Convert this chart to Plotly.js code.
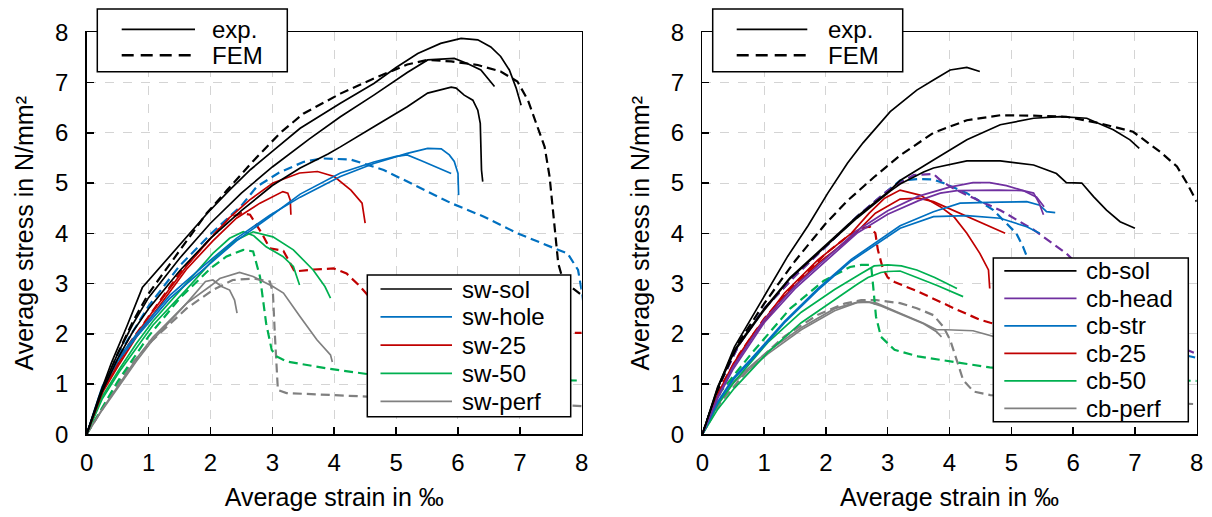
<!DOCTYPE html>
<html>
<head>
<meta charset="utf-8">
<script src="https://cdn.plot.ly/plotly-3.0.1.min.js"></script>
<style>html,body{margin:0;padding:0;background:#fff;}#chart{width:1212px;height:517px;}</style>
</head>
<body>
<div id="chart"></div>
<script>
// ---------- data: [strain ‰, stress N/mm²] ----------
// Left panel (sw series)
const swSolExpA = [[0,0],[0.2,0.75],[0.4,1.42],[0.65,2.15],[0.9,2.92],[1.1,3.2],[1.35,3.55],[1.6,3.92],[1.95,4.4],[2.3,4.85],[2.65,5.27],[3.0,5.63],[3.45,6.09],[4.1,6.59],[4.64,6.98],[5.0,7.3],[5.35,7.58],[5.72,7.78],[6.05,7.88],[6.32,7.85],[6.53,7.71],[6.69,7.52],[6.83,7.25],[6.94,6.89],[7.02,6.55]];
const swSolExpB = [[0,0],[0.25,0.9],[0.5,1.6],[0.75,2.2],[1.0,2.72],[1.5,3.5],[2.0,4.2],[2.5,4.8],[3.0,5.32],[3.3,5.6],[3.6,5.88],[4.1,6.32],[4.64,6.75],[5.18,7.2],[5.51,7.45],[5.94,7.48],[6.15,7.38],[6.37,7.25],[6.48,7.08],[6.59,6.92]];
const swSolExpC = [[0,0],[0.25,0.85],[0.5,1.5],[0.75,2.05],[1.0,2.5],[1.5,3.25],[2.0,3.9],[2.5,4.45],[3.0,4.95],[3.45,5.3],[3.9,5.58],[4.1,5.72],[4.64,6.12],[5.18,6.52],[5.51,6.79],[5.89,6.91],[5.97,6.89],[6.1,6.75],[6.24,6.65],[6.32,6.45],[6.36,6.19],[6.37,5.72],[6.38,5.26],[6.4,5.03]];
const swSolFem = [[0,0],[0.25,0.85],[0.5,1.6],[0.75,2.25],[1.0,2.8],[1.5,3.65],[1.94,4.4],[2.27,4.86],[2.7,5.45],[3.13,6.0],[3.5,6.38],[4.1,6.78],[4.64,7.08],[5.18,7.36],[5.51,7.45],[5.89,7.42],[6.32,7.35],[6.69,7.22],[6.96,7.02],[7.13,6.65],[7.29,6.12],[7.4,5.72],[7.48,5.13],[7.53,4.53],[7.58,3.93],[7.62,3.4],[7.68,3.14],[7.82,2.94],[8.0,2.77]];
const swHoleExp1 = [[0,0],[0.25,0.95],[0.5,1.5],[0.8,1.98],[1.34,2.76],[1.88,3.34],[2.42,3.9],[2.96,4.36],[3.45,4.72],[4.1,5.13],[4.64,5.39],[5.18,5.59],[5.51,5.69],[5.73,5.68],[5.86,5.56],[5.94,5.43],[6.0,5.19],[6.01,4.76]];
const swHoleExp2 = [[0,0],[0.25,0.9],[0.5,1.45],[0.8,1.93],[1.34,2.7],[1.88,3.28],[2.42,3.85],[2.96,4.33],[3.45,4.78],[4.1,5.2],[4.64,5.42],[5.0,5.53],[5.18,5.56],[5.4,5.45],[5.62,5.33],[5.89,5.19]];
const swHoleFem = [[0,0],[0.3,1.0],[0.6,1.75],[1.0,2.55],[1.5,3.35],[2.0,3.98],[2.5,4.55],[2.75,4.93],[3.1,5.2],[3.5,5.42],[3.8,5.49],[4.26,5.47],[4.8,5.26],[5.35,4.93],[5.89,4.6],[6.42,4.33],[6.96,4.0],[7.5,3.73],[7.77,3.6],[7.94,3.27],[8.0,2.85],[8.05,2.4]];
const sw25Exp1 = [[0,0],[0.25,0.85],[0.53,1.45],[0.8,1.98],[1.07,2.45],[1.35,2.9],[1.61,3.34],[2.04,3.95],[2.3,4.3],[2.63,4.66],[3.01,5.0],[3.44,5.2],[3.73,5.23],[4.0,5.13],[4.27,4.86],[4.45,4.6],[4.5,4.2]];
const sw25Exp2 = [[0,0],[0.25,0.82],[0.53,1.4],[0.8,1.93],[1.07,2.38],[1.61,3.28],[2.04,3.85],[2.42,4.3],[2.8,4.6],[3.17,4.83],[3.25,4.8],[3.29,4.66],[3.3,4.37]];
const sw25Fem = [[0,0],[0.3,1.0],[0.6,1.65],[1.0,2.35],[1.5,3.2],[2.0,3.9],[2.3,4.3],[2.5,4.4],[2.64,4.37],[2.83,4.0],[2.96,3.7],[3.18,3.65],[3.29,3.4],[3.36,3.24],[3.67,3.28],[3.99,3.3],[4.2,3.2],[4.42,2.94],[4.7,2.55],[5.2,2.3],[6.0,2.18],[7.0,2.08],[7.9,2.02],[8.0,2.02]];
const sw50Exp1 = [[0,0],[0.25,0.75],[0.53,1.3],[0.8,1.8],[1.07,2.25],[1.61,3.0],[2.04,3.6],[2.31,3.9],[2.53,4.03],[2.7,3.95],[2.9,3.73],[3.17,3.54],[3.34,3.34],[3.44,2.97]];
const sw50Exp2 = [[0,0],[0.25,0.7],[0.53,1.25],[0.8,1.72],[1.07,2.17],[1.61,2.88],[2.04,3.47],[2.4,3.85],[2.69,4.03],[3.01,3.93],[3.34,3.67],[3.66,3.27],[3.85,2.94],[3.94,2.71]];
const sw50Fem = [[0,0],[0.5,1.05],[1.0,1.95],[1.5,2.7],[2.0,3.3],[2.26,3.54],[2.53,3.67],[2.69,3.64],[2.8,3.14],[2.9,2.21],[2.99,1.68],[3.07,1.55],[3.23,1.45],[3.88,1.31],[4.53,1.2],[5.5,1.15],[6.5,1.1],[7.92,1.07],[8.0,1.07]];
const swPerfExp1 = [[0,0],[0.25,0.5],[0.53,1.0],[0.8,1.5],[1.07,1.93],[1.61,2.6],[2.0,2.95],[2.15,3.1],[2.47,3.22],[2.69,3.14],[3.01,2.94],[3.18,2.81],[3.45,2.34],[3.72,1.88],[3.94,1.58],[3.97,1.44]];
const swPerfExp2 = [[0,0],[0.25,0.48],[0.53,0.97],[0.8,1.45],[1.07,1.88],[1.61,2.6],[1.92,3.04],[2.04,3.07],[2.18,2.94],[2.31,2.87],[2.39,2.67],[2.43,2.41]];
const swPerfFem = [[0,0],[0.3,0.6],[0.69,1.35],[1.07,1.88],[1.61,2.5],[2.04,2.87],[2.36,3.07],[2.69,3.1],[2.96,3.04],[3.01,2.81],[3.04,2.01],[3.07,1.35],[3.09,0.88],[3.23,0.82],[3.88,0.78],[4.53,0.75],[6.0,0.68],[7.0,0.62],[8.0,0.56]];

// Right panel (cb series)
const cbSolExpA = [[0,0],[0.3,1.08],[0.52,1.74],[0.79,2.3],[1.06,2.88],[1.38,3.54],[1.71,4.15],[2.03,4.8],[2.35,5.4],[2.6,5.8],[3.04,6.42],[3.47,6.85],[3.74,7.05],[4.01,7.25],[4.28,7.3],[4.49,7.22]];
const cbSolExpB = [[0,0],[0.25,0.95],[0.52,1.68],[1.0,2.5],[1.42,3.12],[1.96,3.73],[2.5,4.33],[3.04,4.86],[3.2,5.05],[3.74,5.46],[4.28,5.86],[4.82,6.16],[5.36,6.29],[5.79,6.32],[6.22,6.29],[6.65,6.06],[6.92,5.86],[7.07,5.69]];
const cbSolExpC = [[0,0],[0.25,0.93],[0.52,1.65],[1.0,2.47],[1.42,3.1],[1.96,3.7],[2.5,4.3],[3.04,4.84],[3.2,4.98],[3.58,5.22],[3.74,5.3],[4.28,5.44],[4.82,5.44],[5.36,5.36],[5.73,5.19],[5.89,5.01],[6.14,5.0],[6.33,4.73],[6.54,4.46],[6.76,4.23],[7.0,4.1]];
const cbSolFem = [[0,0],[0.3,1.05],[0.6,1.85],[1.0,2.6],[1.5,3.45],[2.0,4.2],[2.35,4.65],[2.78,5.12],[3.2,5.55],[3.74,6.0],[4.28,6.25],[4.82,6.35],[5.36,6.34],[5.89,6.32],[6.43,6.19],[6.97,6.02],[7.41,5.62],[7.68,5.33],[7.84,5.0],[8.0,4.63]];
const cbHeadExp1 = [[0,0],[0.25,0.75],[0.5,1.35],[1.0,2.28],[1.5,2.95],[2.0,3.5],[2.5,4.05],[3.0,4.45],[3.5,4.74],[4.0,4.92],[4.38,5.01],[4.65,5.01],[4.92,4.95],[5.19,4.85],[5.41,4.72],[5.53,4.53]];
const cbHeadExp2 = [[0,0],[0.25,0.72],[0.5,1.3],[1.0,2.22],[1.5,2.9],[2.0,3.45],[2.5,4.0],[3.0,4.38],[3.5,4.65],[3.85,4.8],[4.12,4.85],[4.8,4.86],[5.19,4.85],[5.36,4.8],[5.45,4.6],[5.52,4.37]];
const cbHeadFem = [[0,0],[0.3,1.05],[0.6,1.8],[1.0,2.5],[1.5,3.15],[2.0,3.75],[2.5,4.33],[3.0,4.85],[3.42,5.16],[3.74,5.18],[3.85,5.06],[4.01,4.93],[4.28,4.76],[4.82,4.46],[5.36,4.07],[5.89,3.6],[6.5,2.85],[7.0,2.25],[7.5,1.85],[8.0,1.6]];
const cbStrExp1 = [[0,0],[0.25,0.65],[0.5,1.12],[0.79,1.5],[1.33,2.25],[1.87,2.9],[2.41,3.48],[2.95,3.93],[3.2,4.15],[3.74,4.43],[4.17,4.6],[4.82,4.62],[5.25,4.63],[5.46,4.56],[5.57,4.43],[5.71,4.41]];
const cbStrExp2 = [[0,0],[0.25,0.63],[0.5,1.09],[0.79,1.47],[1.33,2.22],[1.87,2.87],[2.41,3.45],[2.95,3.9],[3.2,4.1],[3.74,4.33],[4.28,4.35],[4.82,4.3],[5.25,4.13],[5.46,4.0]];
const cbStrFem = [[0,0],[0.3,1.05],[0.6,1.8],[1.0,2.5],[1.5,3.15],[2.0,3.75],[2.5,4.33],[3.0,4.85],[3.2,5.05],[3.5,5.08],[3.74,5.07],[3.9,5.0],[4.28,4.8],[4.71,4.46],[4.92,4.2],[5.08,4.0],[5.19,3.73],[5.25,3.54],[5.4,3.0],[5.8,2.5],[6.5,2.0],[7.2,1.75],[8.0,1.52]];
const cb25Exp1 = [[0,0],[0.25,0.8],[0.5,1.4],[0.79,1.94],[1.33,2.81],[1.87,3.47],[2.41,4.0],[2.7,4.4],[2.95,4.7],[3.2,4.86],[3.52,4.76],[3.85,4.53],[4.07,4.33],[4.28,4.0],[4.49,3.6],[4.63,3.27],[4.65,2.9]];
const cb25Exp2 = [[0,0],[0.25,0.78],[0.5,1.36],[0.79,1.9],[1.33,2.75],[1.87,3.4],[2.41,3.92],[2.8,4.4],[3.2,4.68],[3.5,4.7],[3.74,4.63],[4.28,4.33],[4.66,4.13],[4.9,4.0]];
const cb25Fem = [[0,0],[0.3,0.95],[0.6,1.6],[1.0,2.3],[1.5,3.0],[2.0,3.6],[2.34,3.93],[2.57,4.1],[2.71,4.13],[2.8,4.0],[2.84,3.67],[2.92,3.3],[3.0,3.12],[3.11,3.03],[3.49,2.84],[3.76,2.68],[4.12,2.48],[4.49,2.28],[4.66,2.22],[5.2,2.1]];
const cb50Exp1 = [[0,0],[0.25,0.6],[0.52,1.05],[1.06,1.83],[1.6,2.43],[2.14,2.88],[2.57,3.2],[2.78,3.35],[3.0,3.37],[3.22,3.35],[3.47,3.27],[3.76,3.12],[4.12,2.9]];
const cb50Exp2 = [[0,0],[0.25,0.5],[0.52,0.92],[1.06,1.63],[1.6,2.22],[2.14,2.68],[2.5,2.98],[2.68,3.12],[2.89,3.22],[3.0,3.24],[3.2,3.25],[3.47,3.12],[3.8,2.96],[4.22,2.74]];
const cb50Fem = [[0,0],[0.3,0.85],[0.79,1.6],[1.42,2.5],[1.96,3.05],[2.39,3.33],[2.57,3.37],[2.73,3.37],[2.76,3.0],[2.81,2.34],[2.89,1.94],[3.11,1.68],[3.49,1.55],[3.86,1.48],[4.12,1.43],[4.65,1.33],[6.0,1.2],[7.0,1.12],[8.0,1.06]];
const cbPerfExp1 = [[0,0],[0.25,0.6],[0.5,1.05],[1.06,1.65],[1.6,2.12],[2.14,2.5],[2.57,2.65],[2.82,2.61],[3.2,2.41],[3.58,2.21],[3.79,2.08],[3.95,2.08],[4.38,2.06],[4.71,1.94],[5.0,1.85]];
const cbPerfExp2 = [[0,0],[0.25,0.58],[0.5,1.02],[1.06,1.6],[1.6,2.08],[2.14,2.46],[2.5,2.62],[2.7,2.63],[2.9,2.55],[3.2,2.4],[3.58,2.2],[3.79,2.04],[3.87,1.94]];
const cbPerfFem = [[0,0],[0.3,0.65],[0.79,1.35],[1.33,1.95],[1.87,2.38],[2.3,2.6],[2.57,2.67],[2.82,2.67],[3.2,2.61],[3.47,2.51],[3.74,2.37],[3.9,2.14],[4.01,1.88],[4.12,1.48],[4.22,1.08],[4.39,0.85],[4.66,0.78],[6.0,0.7],[7.0,0.65],[8.0,0.6]];

const tickVals = [0,1,2,3,4,5,6,7,8];
const xTitle = 'Average strain in ‰';
const yTitle = 'Average stress in N/mm²';
const typeLabels = ['exp.', 'FEM'];

// ---------- build ----------
const C = {black:'#000000', blue:'#0070C0', red:'#C00000', green:'#00B050', gray:'#808080', purple:'#7030A0'};
const FEMDASH = '9px,5px';
const FONT = 'Liberation Sans, Arial, sans-serif';
const W = 1212, H = 517;

function line(pts, color, fem, xa, ya) {
  return {
    type:'scatter', mode:'lines',
    x: pts.map(p=>p[0]), y: pts.map(p=>p[1]),
    xaxis: xa, yaxis: ya,
    line: {color: color, width: fem ? 2.2 : 1.7, dash: fem ? FEMDASH : 'solid'},
    showlegend: false, hoverinfo: 'skip'
  };
}

const leftSeries = [
  ['sw-sol', C.black, [swSolExpA, swSolExpB, swSolExpC], swSolFem],
  ['sw-hole', C.blue, [swHoleExp1, swHoleExp2], swHoleFem],
  ['sw-25', C.red, [sw25Exp1, sw25Exp2], sw25Fem],
  ['sw-50', C.green, [sw50Exp1, sw50Exp2], sw50Fem],
  ['sw-perf', C.gray, [swPerfExp1, swPerfExp2], swPerfFem]
];
const rightSeries = [
  ['cb-sol', C.black, [cbSolExpA, cbSolExpB, cbSolExpC], cbSolFem],
  ['cb-head', C.purple, [cbHeadExp1, cbHeadExp2], cbHeadFem],
  ['cb-str', C.blue, [cbStrExp1, cbStrExp2], cbStrFem],
  ['cb-25', C.red, [cb25Exp1, cb25Exp2], cb25Fem],
  ['cb-50', C.green, [cb50Exp1, cb50Exp2], cb50Fem],
  ['cb-perf', C.gray, [cbPerfExp1, cbPerfExp2], cbPerfFem]
];

const traces = [];
function addPanel(series, xa, ya) {
  series.slice().reverse().forEach(s => traces.push(line(s[3], s[1], true, xa, ya)));
  series.slice().reverse().forEach(s => s[2].forEach(c => traces.push(line(c, s[1], false, xa, ya))));
}
addPanel(leftSeries, 'x', 'y');
addPanel(rightSeries, 'x2', 'y2');

// ---------- legend boxes (drawn as paper-positioned shapes + text) ----------
const typeItems = [[typeLabels[0], '#000', false], [typeLabels[1], '#000', true]];
const legendSpecs = [
  {box:[367.3,275,570.7,416.7], lineX:[380.5,452], textX:459.5, rows:[289,316.9,345.1,373.3,401.3], items: leftSeries.map(s=>[s[0], s[1], false])},
  {box:[97.3,9,287.3,71.7], lineX:[121.7,195], textX:210, rows:[29.3,55.2], items: typeItems},
  {box:[993.3,258,1188.3,421.7], lineX:[1004.3,1076.5], textX:1083.5, rows:[270.9,298.4,325.9,353.3,380.8,408.3], items: rightSeries.map(s=>[s[0], s[1], false])},
  {box:[712.7,9,902.7,71.7], lineX:[736.7,807.3], textX:826, rows:[29.3,55.2], items: typeItems}
];
const shapes = [], annotations = [];
const fx = v => v / W, fy = v => 1 - v / H;
legendSpecs.forEach(L => {
  shapes.push({type:'rect', xref:'paper', yref:'paper', layer:'above',
    x0:fx(L.box[0]), x1:fx(L.box[2]), y0:fy(L.box[1]), y1:fy(L.box[3]),
    fillcolor:'#fff', line:{color:'#000', width:1.5}});
  L.items.forEach((it, i) => {
    const yy = fy(L.rows[i]);
    shapes.push({type:'line', xref:'paper', yref:'paper', layer:'above',
      x0:fx(L.lineX[0]), x1:fx(L.lineX[1]), y0:yy, y1:yy,
      line:{color:it[1], width: it[2] ? 2.4 : 1.7, dash: it[2] ? '12px,7px' : 'solid'}});
    annotations.push({xref:'paper', yref:'paper', x:fx(L.textX), y:yy, xanchor:'left', yanchor:'middle',
      text:it[0], showarrow:false, font:{family:FONT, size:24, color:'#000'}});
  });
});

function xAxis(domain, anchor) {
  return {domain: domain, anchor: anchor, range:[0,8], tickvals: tickVals, ticktext: tickVals.map(String),
    ticks:'inside', ticklen:7, tickwidth:1.5, tickcolor:'#000',
    showline:true, linecolor:'#000', linewidth:1.5, mirror:true,
    showgrid:true, gridcolor:'#d4d4d4', gridwidth:1, griddash:'dash', zeroline:false,
    tickfont:{family:FONT, size:24, color:'#000'}, ticklabelstandoff: 6,
    title:{text:xTitle, font:{family:FONT, size:25, color:'#000'}, standoff:14},
    automargin:false, fixedrange:true};
}
function yAxis(anchor) {
  return {domain:[0.16, 0.9375], anchor: anchor, range:[0,8], tickvals: tickVals, ticktext: tickVals.map(String),
    ticks:'inside', ticklen:7, tickwidth:1.5, tickcolor:'#000',
    showline:true, linecolor:'#000', linewidth:1.5, mirror:true,
    showgrid:true, gridcolor:'#d4d4d4', gridwidth:1, griddash:'dash', zeroline:false,
    tickfont:{family:FONT, size:24, color:'#000'}, ticklabelstandoff: 12,
    title:{text:yTitle, font:{family:FONT, size:25, color:'#000'}, standoff:14},
    automargin:false, fixedrange:true};
}

const layout = {
  width:W, height:H, margin:{l:0, r:0, t:0, b:0},
  paper_bgcolor:'#fff', plot_bgcolor:'#fff', showlegend:false,
  xaxis: xAxis([0.0715, 0.4800], 'y'),
  yaxis: yAxis('x'),
  xaxis2: xAxis([0.5795, 0.9874], 'y2'),
  yaxis2: yAxis('x2'),
  shapes: shapes,
  annotations: annotations
};

Plotly.newPlot('chart', traces, layout, {staticPlot:true, displayModeBar:false});
</script>
</body>
</html>
